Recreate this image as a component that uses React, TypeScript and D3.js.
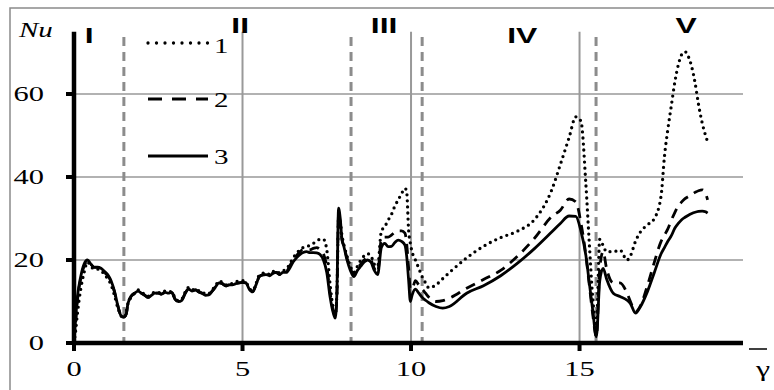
import React from 'react';
import * as d3 from 'd3';

const W = 774;
const H = 390;

const yTicks = [0, 20, 40, 60];
const xTicks = [0, 5, 10, 15];
const regionBounds = [1.48, 8.22, 10.33, 15.49];
const regionLabels = ['I', 'II', 'III', 'IV', 'V'];
const regionLabelGamma = [0.45, 4.93, 9.2, 13.3, 18.16];
const regionLabelNu = [72.3, 74.7, 74.7, 72.3, 74.7];
const legendLabels = ['1', '2', '3'];

// Series 1 (dotted)
const nu1: [number, number][] = [[0,0],[0.05,3],[0.1,7],[0.2,13],[0.3,17],[0.4,19.5],[0.5,18.5],[0.6,17.8],[0.7,17.8],[0.8,17.5],[0.9,16.5],[1.0,15.5],[1.1,14],[1.2,11.5],[1.3,8.5],[1.4,6.5],[1.47,6],[1.55,7.5],[1.6,9.5],[1.7,11],[1.8,12],[1.9,12.8],[2.0,12.2],[2.1,11.8],[2.2,11.3],[2.3,11.8],[2.4,12.3],[2.5,12.2],[2.6,12],[2.7,12.5],[2.8,12.3],[2.9,12.4],[3.0,10.8],[3.1,10.2],[3.2,10.6],[3.3,12.3],[3.4,13.4],[3.5,12.8],[3.6,13],[3.7,12.6],[3.8,12.4],[3.9,11.8],[4.0,11.9],[4.1,12.8],[4.2,13.8],[4.3,15],[4.4,14.6],[4.5,14],[4.6,14.4],[4.7,14.3],[4.8,14.8],[4.9,14.9],[5.0,15],[5.1,14.7],[5.2,13.2],[5.3,12.6],[5.4,14.3],[5.5,16.4],[5.6,16.8],[5.7,17],[5.8,16.5],[5.9,17.2],[6.0,17.4],[6.1,16.9],[6.2,17.4],[6.3,17.8],[6.4,19],[6.5,20.5],[6.6,21.5],[6.7,22.5],[6.8,23],[6.9,23.3],[7.0,23.5],[7.1,24],[7.2,24.5],[7.3,25],[7.4,25],[7.5,22.5],[7.6,14],[7.7,8],[7.75,7],[7.8,12],[7.85,30],[7.9,29],[7.95,26],[8.0,24],[8.1,21],[8.2,18.5],[8.3,17],[8.41,18.5],[8.51,20],[8.61,21],[8.71,21.5],[8.81,21],[8.91,19],[9.01,18.5],[9.12,27],[9.22,28],[9.32,29.6],[9.42,31],[9.52,33],[9.62,34.5],[9.72,36],[9.82,37.3],[9.87,36.5],[9.93,27],[9.98,24],[10.03,22],[10.13,20],[10.23,18],[10.33,16],[10.43,14.5],[10.53,13.3],[10.74,14],[10.94,15.5],[11.14,17],[11.65,20.5],[12.15,23.3],[12.66,25.4],[13.17,27],[13.67,29.8],[14.18,37],[14.43,43],[14.69,49.5],[14.89,54.5],[15.04,53.5],[15.19,38],[15.29,24],[15.39,11],[15.5,4],[15.6,25],[15.7,23.5],[15.8,22],[16.0,22],[16.2,22.4],[16.41,20],[16.51,21],[16.66,24.5],[16.81,26.8],[17.02,28.5],[17.22,30],[17.42,35.5],[17.52,45],[17.62,51.5],[17.72,57],[17.83,63],[17.93,67],[18.03,69.5],[18.13,70.2],[18.23,69],[18.33,66.5],[18.43,62.6],[18.53,57.5],[18.64,53],[18.74,50],[18.8,48.5]];

// Series 2 (dashed)
const nu2: [number, number][] = [[0,1],[0.05,5],[0.1,10],[0.2,15.5],[0.3,18.5],[0.4,19.8],[0.5,19],[0.6,18.2],[0.7,18.2],[0.8,17.8],[0.9,17],[1.0,16.2],[1.1,14.8],[1.2,12.3],[1.3,9],[1.4,6.5],[1.47,6.2],[1.55,7],[1.6,9.5],[1.7,11.3],[1.8,12],[1.9,12.5],[2.0,12],[2.1,11.5],[2.2,11],[2.3,11.6],[2.4,12],[2.5,12],[2.6,11.8],[2.7,12.2],[2.8,12],[2.9,12.2],[3.0,10.6],[3.1,10],[3.2,10.4],[3.3,12],[3.4,13],[3.5,12.5],[3.6,12.8],[3.7,12.3],[3.8,12],[3.9,11.5],[4.0,11.6],[4.1,12.5],[4.2,13.5],[4.3,14.5],[4.4,14.3],[4.5,13.8],[4.6,14],[4.7,14],[4.8,14.3],[4.9,14.5],[5.0,14.6],[5.1,14.5],[5.2,13],[5.3,12.4],[5.4,14],[5.5,16],[5.6,16.4],[5.7,16.5],[5.8,16.2],[5.9,16.8],[6.0,17],[6.1,16.5],[6.2,17],[6.3,17.2],[6.4,18.5],[6.5,20],[6.6,21],[6.7,22],[6.8,22.5],[6.9,22.5],[7.0,22.5],[7.1,22.8],[7.2,23],[7.3,22.5],[7.4,21.5],[7.5,18.5],[7.6,12],[7.7,7.5],[7.75,6.5],[7.8,11],[7.85,31],[7.9,29],[7.95,25],[8.0,23.5],[8.1,20.5],[8.2,18],[8.3,16.5],[8.41,18],[8.51,19],[8.61,20],[8.71,20.5],[8.81,20],[8.91,18],[9.01,17],[9.12,25],[9.22,25.5],[9.32,25.5],[9.42,26],[9.52,26.7],[9.62,27],[9.72,27],[9.82,26.5],[9.87,24],[9.93,18],[9.98,13],[10.03,13],[10.13,15],[10.23,14],[10.33,13],[10.43,12],[10.53,11],[10.74,10],[10.94,10.2],[11.14,10.8],[11.65,13.2],[12.15,15.3],[12.66,17.5],[13.17,21],[13.67,25.3],[14.18,30.5],[14.43,32],[14.69,34.7],[14.89,34],[15.04,29],[15.19,21],[15.29,14],[15.39,7],[15.5,1.5],[15.6,18],[15.7,22],[15.8,18],[16.0,14.5],[16.2,14.5],[16.41,12],[16.51,10],[16.66,7.5],[16.81,9],[17.02,14],[17.22,19.5],[17.42,24.5],[17.52,26],[17.62,27.5],[17.72,29.5],[17.83,31.5],[17.93,33],[18.03,34],[18.13,34.8],[18.23,35.3],[18.33,35.8],[18.43,36.3],[18.53,36.7],[18.64,36.9],[18.74,36],[18.8,34.5]];

// Series 3 (solid)
const nu3: [number, number][] = [[0,1],[0.05,6],[0.1,11],[0.2,16],[0.3,19],[0.4,20],[0.5,19],[0.6,18.3],[0.7,18.3],[0.8,18],[0.9,17.3],[1.0,16.5],[1.1,15],[1.2,12.5],[1.3,9],[1.4,6.5],[1.47,6.2],[1.55,7],[1.6,9.5],[1.7,11.3],[1.8,12],[1.9,12.5],[2.0,12],[2.1,11.5],[2.2,11],[2.3,11.5],[2.4,12],[2.5,12],[2.6,11.8],[2.7,12.2],[2.8,12],[2.9,12.2],[3.0,10.5],[3.1,10],[3.2,10.3],[3.3,12],[3.4,13],[3.5,12.5],[3.6,12.8],[3.7,12.3],[3.8,12],[3.9,11.5],[4.0,11.6],[4.1,12.5],[4.2,13.5],[4.3,14.5],[4.4,14.3],[4.5,13.8],[4.6,14],[4.7,14],[4.8,14.3],[4.9,14.5],[5.0,14.6],[5.1,14.5],[5.2,13],[5.3,12.3],[5.4,14],[5.5,16],[5.6,16.4],[5.7,16.5],[5.8,16.2],[5.9,16.8],[6.0,17],[6.1,16.5],[6.2,17],[6.3,17],[6.4,18],[6.5,19.5],[6.6,20.5],[6.7,21.3],[6.8,21.8],[6.9,22],[7.0,21.8],[7.1,21.8],[7.2,21.7],[7.3,21.3],[7.4,20],[7.5,17],[7.6,11],[7.7,7],[7.75,6],[7.8,12],[7.85,32.5],[7.9,30],[7.95,25],[8.0,23.5],[8.1,20],[8.2,17.5],[8.3,16],[8.41,17.5],[8.51,18.5],[8.61,19.5],[8.71,20],[8.81,19.5],[8.91,17.5],[9.01,16.5],[9.12,23],[9.22,24],[9.32,23.2],[9.42,23.3],[9.52,24.2],[9.62,24.8],[9.72,24.5],[9.82,23.6],[9.87,21],[9.93,15],[9.98,10],[10.03,11.5],[10.13,13],[10.23,12],[10.33,11],[10.43,10.3],[10.53,9.7],[10.74,8.8],[10.94,8.4],[11.14,8.8],[11.65,12],[12.15,13.8],[12.66,16.2],[13.17,19.3],[13.67,22.8],[14.18,26.8],[14.43,28.8],[14.69,30.6],[14.89,30.5],[15.04,27],[15.19,21],[15.29,14.5],[15.39,8],[15.5,1.5],[15.6,15],[15.7,18],[15.8,15.5],[16.0,12],[16.2,11.2],[16.41,10.3],[16.51,9.5],[16.66,7.2],[16.81,8.8],[17.02,12.5],[17.22,17],[17.42,21.5],[17.52,23],[17.62,24.5],[17.72,25.8],[17.83,27.7],[17.93,28.8],[18.03,29.7],[18.13,30.3],[18.23,30.8],[18.33,31.2],[18.43,31.5],[18.53,31.7],[18.64,31.8],[18.74,31.6],[18.8,31.3]];

const SERIF = '"Liberation Serif", "Times New Roman", Times, "DejaVu Serif", serif';
const SANS = '"Liberation Sans", Arial, Helvetica, sans-serif';
const SX = 1.45;

export default function App() {
  const x = d3.scaleLinear().domain([0, 19.85]).range([74, 743]);
  const y = d3.scaleLinear().domain([0, 75]).range([343, 31.75]);
  const line = d3
    .line<[number, number]>()
    .x((d) => x(d[0]))
    .y((d) => y(d[1]))
    .curve(d3.curveMonotoneX);

  const styles = [
    { dash: '0 6', width: 3.3, cap: 'round' as const, legendDash: '0 8.5' },
    { dash: '10 7', width: 2.8, cap: 'butt' as const, legendDash: '14 10' },
    { dash: undefined, width: 2.8, cap: 'butt' as const, legendDash: undefined },
  ];
  const series = [nu1, nu2, nu3];
  const legendY = [43, 99, 156];

  const T = (tx: number, ty: number) => `translate(${tx},${ty}) scale(${SX},1)`;
  const serifStyle = { fontFamily: SERIF };
  const sansStyle = { fontFamily: SANS, fontWeight: 700 };

  return (
    <svg
      width={W}
      height={H}
      style={{ position: 'absolute', left: 0, top: 0, background: '#fff' }}
    >
      <rect x={10} y={8} width={790} height={400} fill="#fff" stroke="#8a8a8a" strokeWidth={1.5} />

      {yTicks.filter((t) => t > 0).map((t) => (
        <line key={'gy' + t} x1={x(0)} x2={x.range()[1]} y1={y(t)} y2={y(t)} stroke="#999" strokeWidth={1.5} />
      ))}
      {xTicks.filter((t) => t > 0).map((t) => (
        <line key={'gx' + t} x1={x(t)} x2={x(t)} y1={y(75)} y2={y(0)} stroke="#999" strokeWidth={2} />
      ))}
      {regionBounds.map((b, i) => (
        <line key={'rb' + i} x1={x(b)} x2={x(b)} y1={37} y2={y(0)} stroke="#8c8c8c" strokeWidth={3} strokeDasharray="9 6" />
      ))}

      {series.map((s, i) => (
        <path
          key={'s' + i}
          d={line(s) || ''}
          fill="none"
          stroke="#000"
          strokeWidth={styles[i].width}
          strokeDasharray={styles[i].dash}
          strokeLinecap={styles[i].cap}
          strokeLinejoin="round"
        />
      ))}

      <line x1={x(0)} x2={x(0)} y1={y(0) + 2} y2={y(75)} stroke="#000" strokeWidth={4.5} />
      <line x1={x(0) - 2} x2={x.range()[1]} y1={y(0)} y2={y(0)} stroke="#000" strokeWidth={4.5} />
      {yTicks.map((t) => (
        <line key={'ty' + t} x1={x(0) - 8} x2={x(0)} y1={y(t)} y2={y(t)} stroke="#000" strokeWidth={4} />
      ))}
      {xTicks.map((t) => (
        <line key={'tx' + t} x1={x(t)} x2={x(t)} y1={y(0)} y2={y(0) + 8} stroke="#000" strokeWidth={4} />
      ))}

      {yTicks.map((t) => (
        <text key={'ly' + t} transform={T(44, y(t) + 7)} textAnchor="end" style={serifStyle} fontSize={21} fill="#000">
          {t}
        </text>
      ))}
      {xTicks.map((t) => (
        <text key={'lx' + t} transform={T(x(t), 376)} textAnchor="middle" style={serifStyle} fontSize={21} fill="#000">
          {t}
        </text>
      ))}

      <text transform={T(19, 37)} style={{ ...serifStyle, fontStyle: 'italic' }} fontSize={20} fill="#000">Nu</text>
      <text transform={T(763, 376)} textAnchor="middle" style={serifStyle} fontSize={22} fill="#000">γ</text>
      <line x1={749} x2={767} y1={349} y2={349} stroke="#000" strokeWidth={1.5} />

      {regionLabels.map((l, i) => (
        <text
          key={'rl' + i}
          transform={T(x(regionLabelGamma[i]), y(regionLabelNu[i]))}
          textAnchor="middle"
          style={sansStyle}
          fontSize={22}
          fill="#000"
        >
          {l}
        </text>
      ))}

      {legendLabels.map((l, i) => (
        <g key={'lg' + i}>
          <line
            x1={148}
            x2={208}
            y1={legendY[i]}
            y2={legendY[i]}
            stroke="#000"
            strokeWidth={styles[i].width}
            strokeDasharray={styles[i].legendDash}
            strokeLinecap={styles[i].cap}
          />
          <text transform={T(214, legendY[i] + (i === 0 ? 10 : 8))} style={serifStyle} fontSize={20} fill="#000">
            {l}
          </text>
        </g>
      ))}
    </svg>
  );
}
